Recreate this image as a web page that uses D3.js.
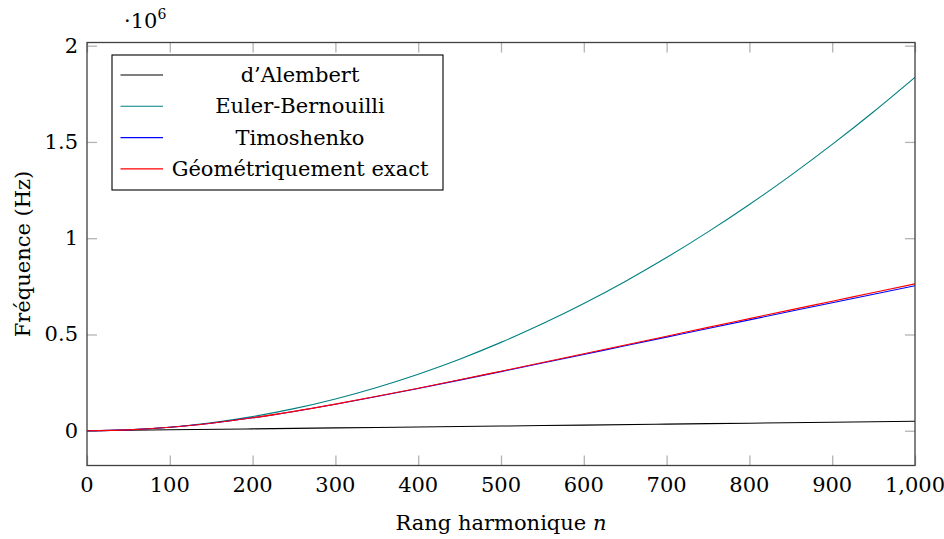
<!DOCTYPE html>
<html><head><meta charset="utf-8">
<script src="https://cdn.jsdelivr.net/npm/d3@7"></script>
<style>
html,body{margin:0;padding:0;background:#fff;}
text{font-family:"DejaVu Serif","Liberation Serif",serif;fill:#000;}
</style></head>
<body><svg id="c" width="944" height="539"></svg>
<script>
// Harmonic rank samples
const nValues = [0,50,100,150,200,250,300,350,400,450,500,550,600,650,700,750,800,850,900,950,1000];
const nAlembert = [0,100,200,300,400,500,600,700,800,900,1000];
// Frequencies in units of 1e6 Hz
const alembert = [0,0.0049,0.0098,0.0147,0.0196,0.0245,0.0294,0.0343,0.0392,0.0441,0.049];
const eulerBernoulli = [0,0.0046,0.0184,0.0413,0.0734,0.1148,0.1652,0.2249,0.2938,0.3718,0.459,0.5554,0.661,0.7757,0.8996,1.0328,1.175,1.3265,1.4872,1.657,1.836];
const timoshenko = [0,0.0046,0.0179,0.0392,0.0671,0.1003,0.1374,0.1775,0.2195,0.2628,0.3069,0.3515,0.3964,0.4413,0.4862,0.5311,0.5758,0.6203,0.6647,0.7089,0.753];
const geomExact = [0,0.0046,0.0179,0.0392,0.0672,0.1006,0.1384,0.1788,0.221,0.2646,0.3094,0.3545,0.3999,0.4455,0.4912,0.537,0.5823,0.6276,0.6727,0.7179,0.763];
const xTicks = [0,100,200,300,400,500,600,700,800,900,1000];
const xTickLabels = ["0","100","200","300","400","500","600","700","800","900","1,000"];
const yTicks = [0,0.5,1,1.5,2];
const yTickLabels = ["0","0.5","1","1.5","2"];
const legendLabels = ["d\u2019Alembert","Euler-Bernouilli","Timoshenko","G\u00e9om\u00e9triquement exact"];
const colors = ["#000000","#008080","#0000ff","#ff0000"];

const svg = d3.select("#c");
const L=87, R=915, T=42.5, B=465.5;
const x = d3.scaleLinear().domain([0,1000]).range([L,R]);
const y = d3.scaleLinear().domain([-0.1805,2.0165]).range([B,T]);
const FS = 21;

const g = svg.append("g");
// ticks (inside, mirrored)
const tickCol = "#b3b3b3", tl = 10;
const xAxB = d3.axisBottom(x).tickValues(xTicks).tickSizeInner(-tl).tickSizeOuter(0).tickFormat("");
const xAxT = d3.axisTop(x).tickValues(xTicks).tickSizeInner(-tl).tickSizeOuter(0).tickFormat("");
const yAxL = d3.axisLeft(y).tickValues(yTicks).tickSizeInner(-tl).tickSizeOuter(0).tickFormat("");
const yAxR = d3.axisRight(y).tickValues(yTicks).tickSizeInner(-tl).tickSizeOuter(0).tickFormat("");
[[xAxB,`translate(0,${B})`],[xAxT,`translate(0,${T})`],[yAxL,`translate(${L},0)`],[yAxR,`translate(${R},0)`]].forEach(([ax,tr])=>{
  const a = g.append("g").attr("transform",tr).call(ax);
  a.select(".domain").remove();
  a.selectAll("line").attr("stroke",tickCol).attr("stroke-width",1.3);
});
// tick labels
g.selectAll(".xl").data(xTicks).join("text").attr("x",d=>x(d)).attr("y",B+26)
  .attr("text-anchor","middle").attr("font-size",FS).text((d,i)=>xTickLabels[i]);
g.selectAll(".yl").data(yTicks).join("text").attr("x",L-9).attr("y",d=>y(d)+7)
  .attr("text-anchor","end").attr("font-size",FS).text((d,i)=>yTickLabels[i]);

// plot lines
const clip = svg.append("clipPath").attr("id","cp").append("rect").attr("x",L).attr("y",T).attr("width",R-L).attr("height",B-T);
const line = d3.line().x(d=>x(d[0])).y(d=>y(d[1])).curve(d3.curveMonotoneX);
const series = [
  nAlembert.map((n,i)=>[n,alembert[i]]),
  nValues.map((n,i)=>[n,eulerBernoulli[i]]),
  nValues.map((n,i)=>[n,timoshenko[i]]),
  nValues.map((n,i)=>[n,geomExact[i]])
];
const pg = g.append("g").attr("clip-path","url(#cp)");
series.forEach((s,i)=>{
  pg.append("path").datum(s).attr("d",line).attr("fill","none").attr("stroke",colors[i]).attr("stroke-width",1.1);
});

// frame
g.append("rect").attr("x",L).attr("y",T).attr("width",R-L).attr("height",B-T)
  .attr("fill","none").attr("stroke","#404040").attr("stroke-width",1.3);

// legend
const lg = g.append("g");
lg.append("rect").attr("x",112).attr("y",55).attr("width",331).attr("height",135)
  .attr("fill","#fff").attr("stroke","#000").attr("stroke-width",1.1);
legendLabels.forEach((lab,i)=>{
  const yy = 75 + i*31.3;
  lg.append("line").attr("x1",120.5).attr("x2",163).attr("y1",yy).attr("y2",yy)
    .attr("stroke",colors[i]).attr("stroke-width",1.1);
  lg.append("text").attr("x",300).attr("y",yy+7).attr("text-anchor","middle").attr("font-size",FS).text(lab);
});

// axis labels
g.append("text").attr("x",501).attr("y",530).attr("text-anchor","middle").attr("font-size",FS)
  .html('Rang harmonique <tspan font-style="italic">n</tspan>');
g.append("text").attr("transform","translate(30,254) rotate(-90)").attr("text-anchor","middle").attr("font-size",FS)
  .text("Fréquence (Hz)");
// scale factor
const sf = g.append("text").attr("x",124).attr("y",28).attr("font-size",FS);
sf.append("tspan").text("\u00b710");
sf.append("tspan").attr("font-size",14).attr("dy",-9).text("6");
</script></body></html>
